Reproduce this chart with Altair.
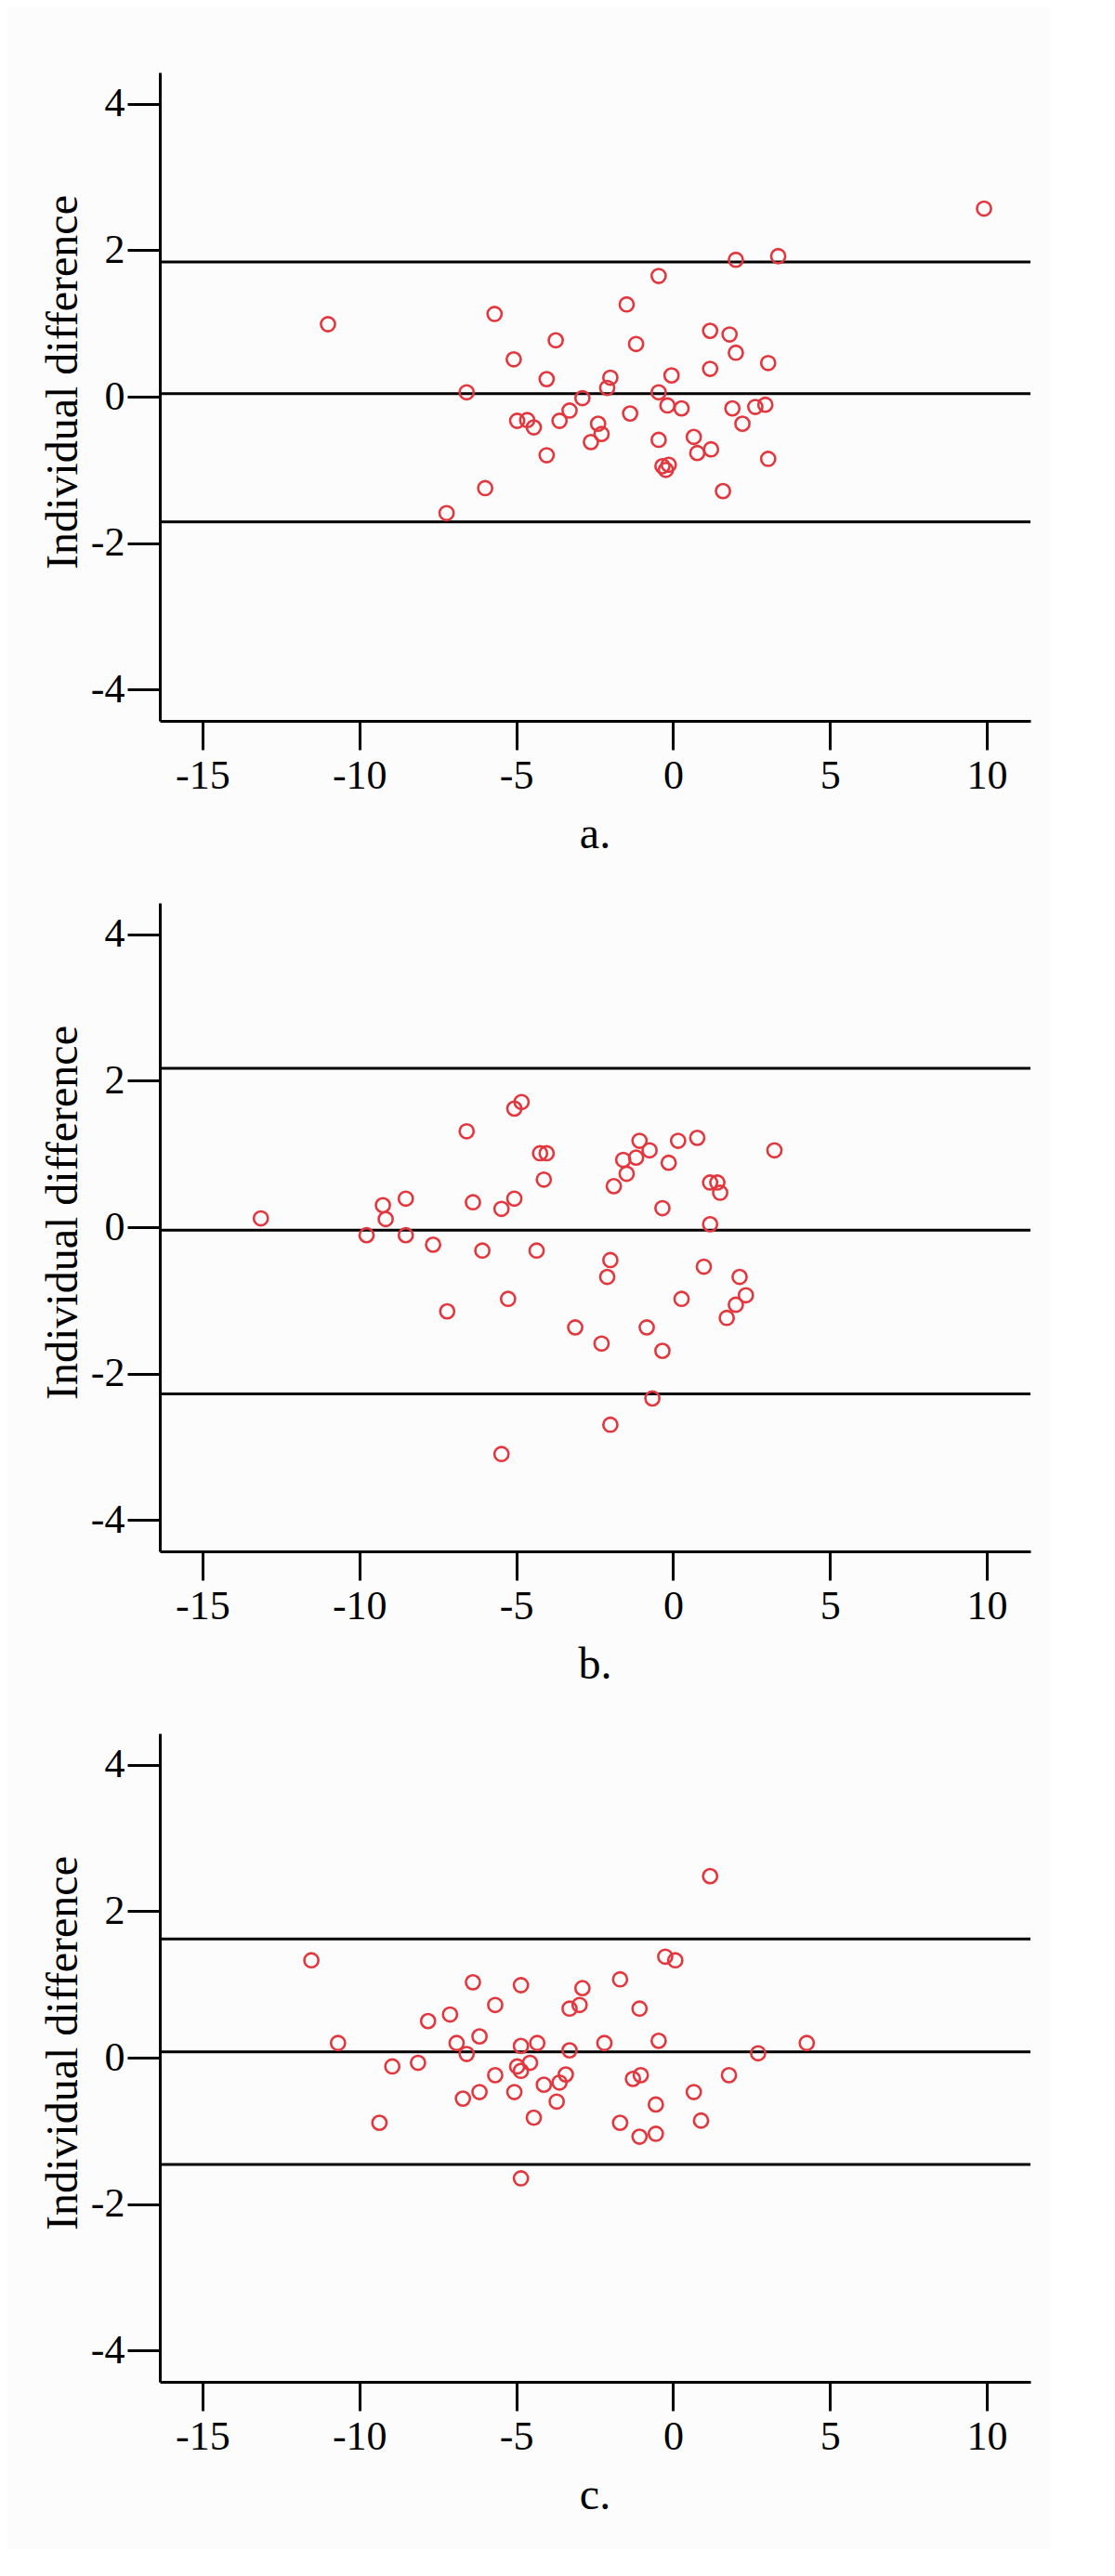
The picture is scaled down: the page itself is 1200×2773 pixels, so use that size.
import altair as alt
import pandas as pd

# ---- data ----
a_x = [9.91, 2.0, 3.35, -0.46, -1.48, -11.0, -5.69, -3.74, -1.18, 1.18, 1.80, 2.0, 3.03, -5.08, 1.18,
       -4.03, -2.0, -2.1, -0.05, -6.58, -0.46, -2.89, -3.30, -0.18, 0.27, 1.89, 2.62, 2.94, -4.97, -4.65,
       -4.44, -3.62, -2.39, -2.28, -1.37, 2.21, -2.62, -0.46, 0.66, 0.77, 1.21, -4.03, 3.03, -0.34, -0.14,
       -0.23, -5.99, 1.59, -7.22]
a_y = [2.57, 1.87, 1.92, 1.65, 1.26, 0.99, 1.13, 0.77, 0.72, 0.90, 0.85, 0.60, 0.46, 0.51, 0.38,
       0.24, 0.26, 0.12, 0.29, 0.06, 0.06, -0.02, -0.19, -0.12, -0.16, -0.16, -0.14, -0.11, -0.33, -0.32,
       -0.42, -0.33, -0.37, -0.51, -0.23, -0.37, -0.62, -0.59, -0.55, -0.77, -0.72, -0.80, -0.85, -0.95, -0.93,
       -1.0, -1.25, -1.29, -1.59]
a_lines = [1.84, 0.04, -1.71]

b_x = [-13.14, -9.77, -9.25, -9.16, -8.52, -8.52, -7.65, -7.20, -6.58, -6.38, -6.08, -5.47, -5.47, -5.26,
       -5.06, -5.06, -4.83, -4.35, -4.24, -4.03, -4.12, -3.12, -2.28, -2.0, -2.1, -2.0, -1.89, -1.59, -1.48,
       -1.18, -1.07, -0.75, -0.84, -0.66, -0.34, -0.34, -0.14, 0.16, 0.27, 0.77, 0.98, 1.18, 1.18, 1.41,
       1.50, 1.71, 2.0, 2.12, 2.32, 3.23]
b_y = [0.12, -0.11, 0.30, 0.11, 0.39, -0.11, -0.24, -1.15, 1.31, 0.34, -0.32, 0.25, -3.10, -0.98,
       0.39, 1.62, 1.71, -0.32, 1.01, 1.01, 0.65, -1.37, -1.59, -0.45, -0.68, -2.70, 0.56, 0.92, 0.73,
       0.95, 1.18, 1.05, -1.37, -2.34, -1.69, 0.26, 0.88, 1.18, -0.98, 1.22, -0.54, 0.04, 0.61, 0.61,
       0.47, -1.24, -1.06, -0.68, -0.93, 1.05]
b_lines = [2.17, -0.04, -2.28]

c_x = [1.18, -11.53, -0.25, 0.07, -1.69, -6.38, -4.85, -2.89, -5.67, -3.30, -2.98, -1.07, -7.11, -7.81,
       -6.17, -10.68, -6.90, -6.58, -4.85, -4.33, -3.30, -2.19, -0.46, 2.71, 4.26, -8.95, -8.13, -4.97,
       -4.85, -4.56, -5.67, -3.42, -3.62, -4.12, -5.06, -6.17, -6.70, -3.71, -1.28, -1.03, 1.78, 0.66,
       -0.55, -4.44, -9.36, -1.69, 0.89, -1.07, -0.55, -4.85]
c_y = [2.48, 1.33, 1.38, 1.33, 1.07, 1.03, 0.99, 0.95, 0.72, 0.67, 0.72, 0.67, 0.59, 0.50,
       0.29, 0.20, 0.20, 0.05, 0.16, 0.20, 0.10, 0.20, 0.23, 0.06, 0.20, -0.12, -0.07, -0.12,
       -0.18, -0.07, -0.24, -0.23, -0.34, -0.37, -0.47, -0.47, -0.56, -0.60, -0.29, -0.24, -0.24, -0.47,
       -0.64, -0.82, -0.89, -0.89, -0.86, -1.08, -1.04, -1.65]
c_lines = [1.62, 0.08, -1.46]

panel_labels = ["a.", "b.", "c."]
x_ticks = [-15, -10, -5, 0, 5, 10]
y_ticks = [-4, -2, 0, 2, 4]
y_title = "Individual difference"

FONT = "Liberation Serif"
RED = "#e3363d"


def panel(xs, ys, lines, label):
    pts = pd.DataFrame({"x": xs, "y": ys})
    ln = pd.DataFrame({"y": lines})
    xenc = alt.X(
        "x:Q",
        scale=alt.Scale(domain=[-16.36, 11.39], nice=False, zero=False),
        axis=alt.Axis(
            values=x_ticks, title=label, grid=False,
            labelExpr="'' + datum.value",
            domainColor="black", domainWidth=3,
            tickColor="black", tickWidth=3, tickSize=31,
            labelFont=FONT, labelFontSize=44, labelColor="black",
            labelBaseline="alphabetic", labelPadding=41,
            titleFont=FONT, titleFontSize=48, titleFontWeight="normal", titleColor="black",
            titleBaseline="alphabetic", titleY=136, titleX=468,
        ),
    )
    yenc = alt.Y(
        "y:Q",
        scale=alt.Scale(domain=[-4.43, 4.43], nice=False, zero=False),
        axis=alt.Axis(
            values=y_ticks, title=y_title, grid=False,
            labelExpr="'' + datum.value",
            domainColor="black", domainWidth=3,
            tickColor="black", tickWidth=3, tickSize=35,
            labelFont=FONT, labelFontSize=44, labelColor="black",
            labelPadding=3,
            titleFont=FONT, titleFontSize=48, titleFontWeight="normal", titleColor="black",
            titleBaseline="alphabetic", titleAngle=270, titleX=-90, titleY=333,
        ),
    )
    points = alt.Chart(pts).mark_point(
        shape="circle", filled=False, color=RED, size=230, strokeWidth=2.6, opacity=1
    ).encode(x=xenc, y=yenc)
    rules = alt.Chart(ln).mark_rule(color="black", strokeWidth=3).encode(y="y:Q")
    return alt.layer(rules, points).properties(width=937, height=698)


chart = alt.vconcat(
    panel(a_x, a_y, a_lines, panel_labels[0]),
    panel(b_x, b_y, b_lines, panel_labels[1]),
    panel(c_x, c_y, c_lines, panel_labels[2]),
    spacing=196,
    bounds="flush",
).properties(
    padding={"left": 36, "top": 70, "right": 19, "bottom": 34},
    background="#fcfcfc",
).configure_view(stroke=None)

chart.save("out.html", embed_options={"renderer": "svg", "actions": False})
